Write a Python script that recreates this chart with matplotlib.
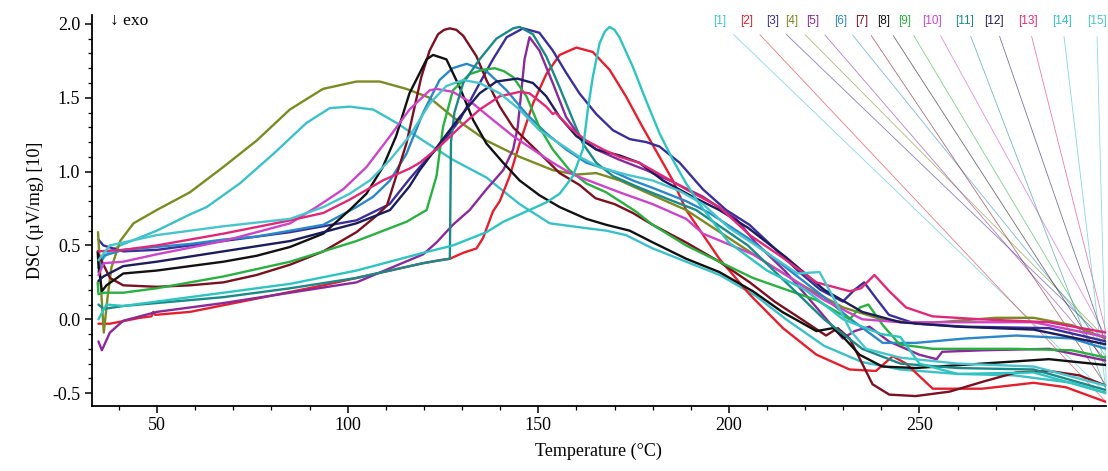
"""DSC curves of fifteen samples, heat flow against temperature."""

import matplotlib

matplotlib.use("Agg")
import matplotlib.pyplot as plt
from matplotlib.ticker import MultipleLocator

# --- data (temperature in degC, DSC in uV/mg) ---
T_01 = [34.5, 35.5, 37, 40.3, 49.9, 58.6, 63, 71.7, 80.5, 89.2, 95.3, 100.6, 106.7, 112.8,
        119.8, 127.6, 136.4, 145.1, 153, 161.7, 167.9, 173, 180, 188.8, 197.6, 207, 215,
        225, 235, 245, 260, 275, 290, 299]
V_01 = [0.35, 0.40, 0.45, 0.50, 0.60, 0.71, 0.76, 0.92, 1.12, 1.33, 1.43, 1.44, 1.42, 1.33,
        1.21, 1.08, 0.96, 0.78, 0.65, 0.62, 0.60, 0.57, 0.48, 0.39, 0.30, 0.16, 0.0,
        -0.18, -0.29, -0.34, -0.37, -0.38, -0.43, -0.50]

T_02 = [34.6, 37.6, 45.5, 48.5, 49, 49.5, 58.6, 76.1, 93.6, 111.1, 119.8, 124, 126.8, 130.3,
        133.8, 135.5, 138.1, 139.9, 142.5, 145.1, 148.6, 152.1, 155.6, 160, 164.3, 168.7,
        173, 177.4, 181.8, 185.3, 188.8, 197.5, 205.4, 214.2, 223, 231.7, 238.6, 243,
        246.5, 253.5, 266.5, 280, 288.4, 299]
V_02 = [-0.03, -0.03, 0.01, 0.02, 0.05, 0.03, 0.05, 0.14, 0.23, 0.33, 0.38, 0.40, 0.41, 0.45,
        0.48, 0.55, 0.73, 0.80, 0.97, 1.19, 1.46, 1.66, 1.79, 1.84, 1.81, 1.69,
        1.51, 1.30, 1.10, 0.94, 0.74, 0.41, 0.17, -0.06, -0.24, -0.34, -0.35, -0.25,
        -0.30, -0.47, -0.47, -0.43, -0.46, -0.56]

T_03 = [34.6, 35.9, 41.1, 49.9, 67.4, 84.9, 102.3, 111, 111.9, 116.2, 120.6, 125, 129.4,
        133.8, 138.1, 141.7, 146, 150.3, 153.8, 157.3, 160.8, 165.2, 169.6, 174, 178.3,
        181.8, 187.1, 193.2, 199.3, 205.4, 212, 218.5, 224, 229.9, 233, 235.5, 238.7, 242,
        249, 262, 284, 299]
V_03 = [0.54, 0.50, 0.46, 0.47, 0.53, 0.59, 0.67, 0.78, 0.81, 0.95, 1.08, 1.20, 1.35,
        1.56, 1.76, 1.91, 1.97, 1.94, 1.82, 1.67, 1.53, 1.39, 1.28, 1.22, 1.20,
        1.17, 1.06, 0.88, 0.74, 0.64, 0.48, 0.32, 0.20, 0.12, 0.20, 0.25, 0.14, 0.03,
        -0.03, -0.05, -0.06, -0.15]

T_04 = [34.5, 35.3, 36.0, 37.0, 38.0, 40.3, 43.8, 49.9, 58.6, 67.3, 76.1, 84.8, 93.5, 102.3,
        108.4, 115.4, 121.5, 127.6, 136.4, 145.1, 153.8, 160, 165.2, 171.4, 180, 188.8,
        200, 210, 220, 230, 240, 250, 260, 270, 280, 290, 299]
V_04 = [0.59, 0.20, -0.09, 0.15, 0.35, 0.53, 0.65, 0.74, 0.86, 1.03, 1.21, 1.42, 1.56, 1.61,
        1.61, 1.56, 1.50, 1.37, 1.21, 1.10, 1.01, 0.98, 0.99, 0.94, 0.84, 0.74,
        0.55, 0.38, 0.22, 0.08, 0.0, -0.03, -0.01, 0.01, 0.01, -0.04, -0.13]

T_05 = [34.6, 35.5, 37.6, 41.1, 49.9, 67.4, 84.9, 102.3, 119.8, 123.3, 127.6, 132, 136.4,
        140.8, 143.4, 144.6, 145.5, 146.4, 147.7, 150.3, 153.8, 157.3, 160.8, 165.2, 171.3,
        178.3, 185.3, 193.2, 201.9, 207, 215, 223, 229.9, 233, 236.9, 242, 250, 254.5, 256,
        266.5, 284, 299]
V_05 = [-0.15, -0.21, -0.09, -0.01, 0.05, 0.11, 0.18, 0.25, 0.44, 0.52, 0.64, 0.74, 0.88,
        1.01, 1.15, 1.30, 1.53, 1.76, 1.91, 1.82, 1.60, 1.37, 1.24, 1.15, 1.08,
        1.01, 0.93, 0.83, 0.68, 0.52, 0.32, 0.08, -0.13, -0.08, -0.05, -0.15, -0.24, -0.27, -0.22,
        -0.21, -0.20, -0.28]

T_06 = [34.6, 35.9, 41.1, 49.9, 58.6, 67.4, 76.1, 84.9, 93.6, 102.3, 106.7, 111.1, 115.4,
        119.8, 124.1, 127.5, 131.2, 136.4, 141.7, 146.9, 152.1, 157.3, 162.6, 168.7, 174.8,
        180, 188.8, 194.9, 205, 215, 225, 232, 240.4, 249, 262, 275.4, 290, 299]
V_06 = [0.32, 0.43, 0.47, 0.49, 0.51, 0.54, 0.56, 0.60, 0.64, 0.76, 0.83, 0.94, 1.12,
        1.40, 1.62, 1.70, 1.73, 1.68, 1.55, 1.39, 1.26, 1.15, 1.06, 1.01, 0.94,
        0.89, 0.80, 0.72, 0.55, 0.35, 0.15, 0.0, -0.16, -0.16, -0.13, -0.11, -0.13, -0.20]

T_07 = [34.6, 37.6, 41.1, 49.9, 58.6, 67.4, 76.1, 84.9, 93.6, 102.3, 107.5, 110.3, 115.4,
        119.3, 121.5, 123.7, 125.3, 126.8, 128.5, 130.3, 133.8, 136.4, 139.9, 143.4, 147.7,
        152.1, 155.6, 160.8, 165, 170, 174.8, 180, 188.8, 197.5, 205.5, 212, 218.5, 225.5,
        228.6, 231.7, 237.7, 242.1, 249, 257.9, 267, 275.4, 284, 292, 299]
V_07 = [0.44, 0.28, 0.23, 0.22, 0.23, 0.25, 0.30, 0.37, 0.46, 0.59, 0.70, 0.77, 1.19,
        1.64, 1.82, 1.93, 1.96, 1.97, 1.96, 1.92, 1.78, 1.62, 1.44, 1.30, 1.19,
        1.08, 0.99, 0.91, 0.82, 0.78, 0.72, 0.64, 0.52, 0.39, 0.25, 0.12, 0.01, -0.11,
        -0.06, -0.13, -0.44, -0.51, -0.52, -0.49, -0.42, -0.36, -0.35, -0.38, -0.45]

T_08 = [34.4, 34.6, 35.5, 36.7, 41.1, 49.9, 58.6, 67.4, 76.1, 84.9, 93.6, 100.5, 104.9, 109.2,
        112.7, 116.2, 120.7, 122.4, 125.9, 129.4, 132.9, 136.4, 140.8, 145.1, 150.3, 155.6,
        162.6, 167.8, 174, 180.1, 188.8, 197.5, 206.3, 214, 223, 227.3, 230, 234.3, 240.3,
        249, 266.5, 284, 299]
V_08 = [0.46, 0.37, 0.19, 0.23, 0.31, 0.33, 0.36, 0.39, 0.43, 0.49, 0.58, 0.74, 0.85, 1.03,
        1.24, 1.53, 1.76, 1.79, 1.76, 1.57, 1.35, 1.19, 1.06, 0.94, 0.84, 0.76,
        0.68, 0.64, 0.60, 0.52, 0.41, 0.32, 0.19, 0.05, -0.08, -0.06, -0.12, -0.24, -0.32,
        -0.33, -0.30, -0.27, -0.31]

T_09 = [34.4, 34.6, 36, 41.1, 49.9, 67.4, 84.9, 102.3, 115.4, 120.7, 121.5, 123.3, 125, 127.6,
        132, 135.5, 138.6, 141, 143.4, 146.9, 150.3, 153.8, 158.2, 162.6, 167.8, 175.6, 180,
        188.8, 197.5, 206.3, 214, 223, 231.7, 234.4, 236.6, 240.4, 244.8, 253.5, 275, 290, 299]
V_09 = [0.25, 0.17, 0.18, 0.18, 0.21, 0.29, 0.39, 0.53, 0.66, 0.74, 0.81, 0.97, 1.30, 1.55,
        1.66, 1.69, 1.70, 1.68, 1.64, 1.51, 1.30, 1.15, 1.01, 0.92, 0.86, 0.73, 0.64,
        0.50, 0.39, 0.28, 0.21, 0.13, 0.0, 0.08, 0.10, -0.04, -0.17, -0.20, -0.20, -0.21, -0.26]

T_10 = [34.6, 36, 41.1, 49.9, 67.4, 84.9, 91.8, 98.8, 104.9, 111.1, 116.2, 121.5, 123.3,
        127.6, 132.9, 138.1, 143.4, 148.6, 153.8, 159.1, 165.2, 171.3, 180, 188.8, 193.2,
        206.3, 215, 225, 235, 245, 260, 280, 299]
V_10 = [0.30, 0.38, 0.39, 0.44, 0.53, 0.65, 0.76, 0.88, 1.03, 1.24, 1.42, 1.55, 1.56,
        1.54, 1.46, 1.35, 1.24, 1.15, 1.06, 0.98, 0.92, 0.86, 0.78, 0.68, 0.58,
        0.44, 0.30, 0.13, 0.0, -0.02, -0.02, -0.02, -0.12]

T_11 = [34.6, 35.9, 41.1, 49.9, 67.4, 84.9, 102.3, 119.8, 126.8, 127.1, 128, 130.3, 134.6,
        139, 143.4, 145.1, 148.6, 152.1, 155.6, 159.1, 161.7, 165.2, 169.6, 175.7, 184.4,
        191.4, 205, 215, 225, 235, 245, 260, 280, 299]
V_11 = [0.10, 0.07, 0.09, 0.11, 0.15, 0.21, 0.28, 0.38, 0.41, 1.20, 1.40, 1.60, 1.76,
        1.90, 1.97, 1.98, 1.93, 1.78, 1.57, 1.35, 1.19, 1.06, 0.97, 0.90, 0.81,
        0.74, 0.50, 0.25, 0.0, -0.20, -0.30, -0.33, -0.34, -0.48]

T_12 = [34.6, 35.9, 41.1, 49.9, 67.4, 84.9, 102.3, 111.1, 116.2, 118.9, 124.1, 129.4, 134.6,
        139, 144.5, 148.6, 152.1, 155.6, 160, 165.2, 171.3, 176.5, 182.7, 190.5, 197.5,
        205, 215, 225, 235, 245, 260, 280, 299]
V_12 = [0.26, 0.29, 0.36, 0.39, 0.46, 0.53, 0.65, 0.74, 0.90, 1.01, 1.19, 1.37, 1.53,
        1.61, 1.63, 1.60, 1.51, 1.37, 1.24, 1.15, 1.11, 1.06, 0.94, 0.83, 0.74,
        0.62, 0.42, 0.20, 0.05, -0.02, -0.05, -0.07, -0.17]

T_13 = [34.6, 41.1, 49.9, 67.4, 84.9, 93.6, 100.5, 109.2, 116.2, 118.9, 124.1, 129.4, 134.6,
        139.9, 145.1, 147.7, 152.1, 153.8, 154.5, 158.2, 162.6, 167, 171.3, 176.5, 182.7,
        188.8, 197.5, 205.5, 214, 223, 231.7, 234.7, 238.2, 242.1, 246.5, 253.4, 266, 284,
        299]
V_13 = [0.46, 0.47, 0.50, 0.58, 0.67, 0.72, 0.81, 0.94, 1.02, 1.06, 1.17, 1.30, 1.42,
        1.51, 1.54, 1.53, 1.44, 1.39, 1.40, 1.30, 1.21, 1.15, 1.10, 1.06, 0.97,
        0.88, 0.76, 0.57, 0.42, 0.25, 0.19, 0.21, 0.30, 0.19, 0.08, 0.02, 0.0, -0.02,
        -0.09]

T_14 = [34.6, 36.7, 41.1, 49.9, 67.4, 84.9, 102.3, 119.8, 127.6, 136.4, 140.8, 147.7, 152,
        155.6, 159.1, 161.7, 163, 164.3, 166.1, 167.5, 168.7, 170, 171.3, 174.8, 178.3, 181.8,
        185.3, 188.8, 192.3, 200, 210, 220, 230, 240, 245, 250, 260, 280, 299]
V_14 = [0.0, 0.10, 0.09, 0.12, 0.18, 0.24, 0.33, 0.45, 0.50, 0.59, 0.66, 0.74, 0.79,
        0.85, 0.97, 1.15, 1.42, 1.64, 1.87, 1.95, 1.98, 1.96, 1.91, 1.71, 1.48, 1.26,
        1.08, 0.92, 0.78, 0.52, 0.33, 0.20, 0.0, -0.10, -0.12, -0.30, -0.37, -0.36, -0.50]

T_15 = [34.6, 37.6, 41.1, 49.9, 67.4, 84.9, 93.6, 100.5, 105.8, 111.1, 116.2, 121.5, 125.9,
        130.3, 134.6, 139.9, 145.1, 150.3, 155.6, 160.8, 166.1, 173, 180, 187, 193.2, 200,
        210, 218, 223.8, 228, 232, 236, 245, 260, 280, 299]
V_15 = [0.40, 0.50, 0.52, 0.57, 0.63, 0.68, 0.76, 0.85, 0.94, 1.08, 1.24, 1.46, 1.58,
        1.62, 1.60, 1.53, 1.42, 1.28, 1.19, 1.10, 1.03, 0.98, 0.94, 0.87, 0.78, 0.62,
        0.45, 0.31, 0.32, 0.12, -0.08, -0.20, -0.26, -0.30, -0.32, -0.45]

SAMPLE_LABELS = ["[1]", "[2]", "[3]", "[4]", "[5]", "[6]", "[7]", "[8]", "[9]", "[10]",
                 "[11]", "[12]", "[13]", "[14]", "[15]"]
SAMPLE_COLOURS = ["#3cc0c8", "#e2202e", "#3a2e9a", "#7c8a22", "#8a2a9a", "#2a88c8",
                  "#7a1020", "#111111", "#2ab040", "#cc44c8", "#1a8a88", "#1c1c5c",
                  "#e02878", "#2ec4c0", "#48c4cc"]

# label positions along the top (axes fraction) -- layout only
LABEL_X = [0.619, 0.646, 0.671, 0.690, 0.711, 0.739, 0.759, 0.781, 0.802, 0.829,
           0.861, 0.890, 0.923, 0.957, 0.991]

series = [(T_01, V_01), (T_02, V_02), (T_03, V_03), (T_04, V_04), (T_05, V_05),
          (T_06, V_06), (T_07, V_07), (T_08, V_08), (T_09, V_09), (T_10, V_10),
          (T_11, V_11), (T_12, V_12), (T_13, V_13), (T_14, V_14), (T_15, V_15)]

serif = ["Liberation Serif", "DejaVu Serif"]

fig = plt.figure(figsize=(11.08, 4.71), dpi=100)
ax = fig.add_axes([0.083, 0.139, 0.915, 0.829])

for (temps, vals), colour in zip(series, SAMPLE_COLOURS):
    ax.plot(temps, vals, color=colour, linewidth=1.7, solid_joinstyle="round",
            solid_capstyle="round", zorder=2)

# leader lines from each label to the end of its curve
for (temps, vals), label, colour, lx in zip(series, SAMPLE_LABELS, SAMPLE_COLOURS, LABEL_X):
    ax.annotate(
        label,
        xy=(temps[-1], vals[-1]),
        xycoords="data",
        xytext=(lx, 0.985),
        textcoords="axes fraction",
        ha="center",
        va="center",
        fontsize=8.5,
        family=["Liberation Sans", "DejaVu Sans"],
        color=colour,
        arrowprops=dict(arrowstyle="-", color=colour, linewidth=0.6, alpha=0.6,
                        shrinkA=5, shrinkB=0),
        zorder=1,
    )

ax.text(0.018, 0.985, "\u2193 exo", transform=ax.transAxes, ha="left", va="center",
        fontsize=12.5, family=serif)

ax.set_xlim(32.9, 298.9)
ax.set_ylim(-0.584, 2.06)
ax.xaxis.set_major_locator(MultipleLocator(50))
ax.xaxis.set_minor_locator(MultipleLocator(10))
ax.yaxis.set_major_locator(MultipleLocator(0.5))
ax.yaxis.set_minor_locator(MultipleLocator(0.1))
ax.set_yticks([-0.5, 0.0, 0.5, 1.0, 1.5, 2.0], ["-0.5", "0.0", "0.5", "1.0", "1.5", "2.0"])

ax.spines["top"].set_visible(False)
ax.spines["right"].set_visible(False)
for side in ("left", "bottom"):
    ax.spines[side].set_linewidth(1.3)
ax.tick_params(which="major", direction="out", length=5, width=1.1, labelsize=13)
ax.tick_params(which="minor", direction="out", length=3, width=0.9)
for lab in ax.get_xticklabels() + ax.get_yticklabels():
    lab.set_family(serif)

ax.set_xlabel("Temperature (\u00b0C)", fontsize=13, family=serif, labelpad=6)
ax.set_ylabel("DSC (\u00b5V/mg) [10]", fontsize=13, family=serif, labelpad=6)

fig.savefig("out.png", dpi=100)
